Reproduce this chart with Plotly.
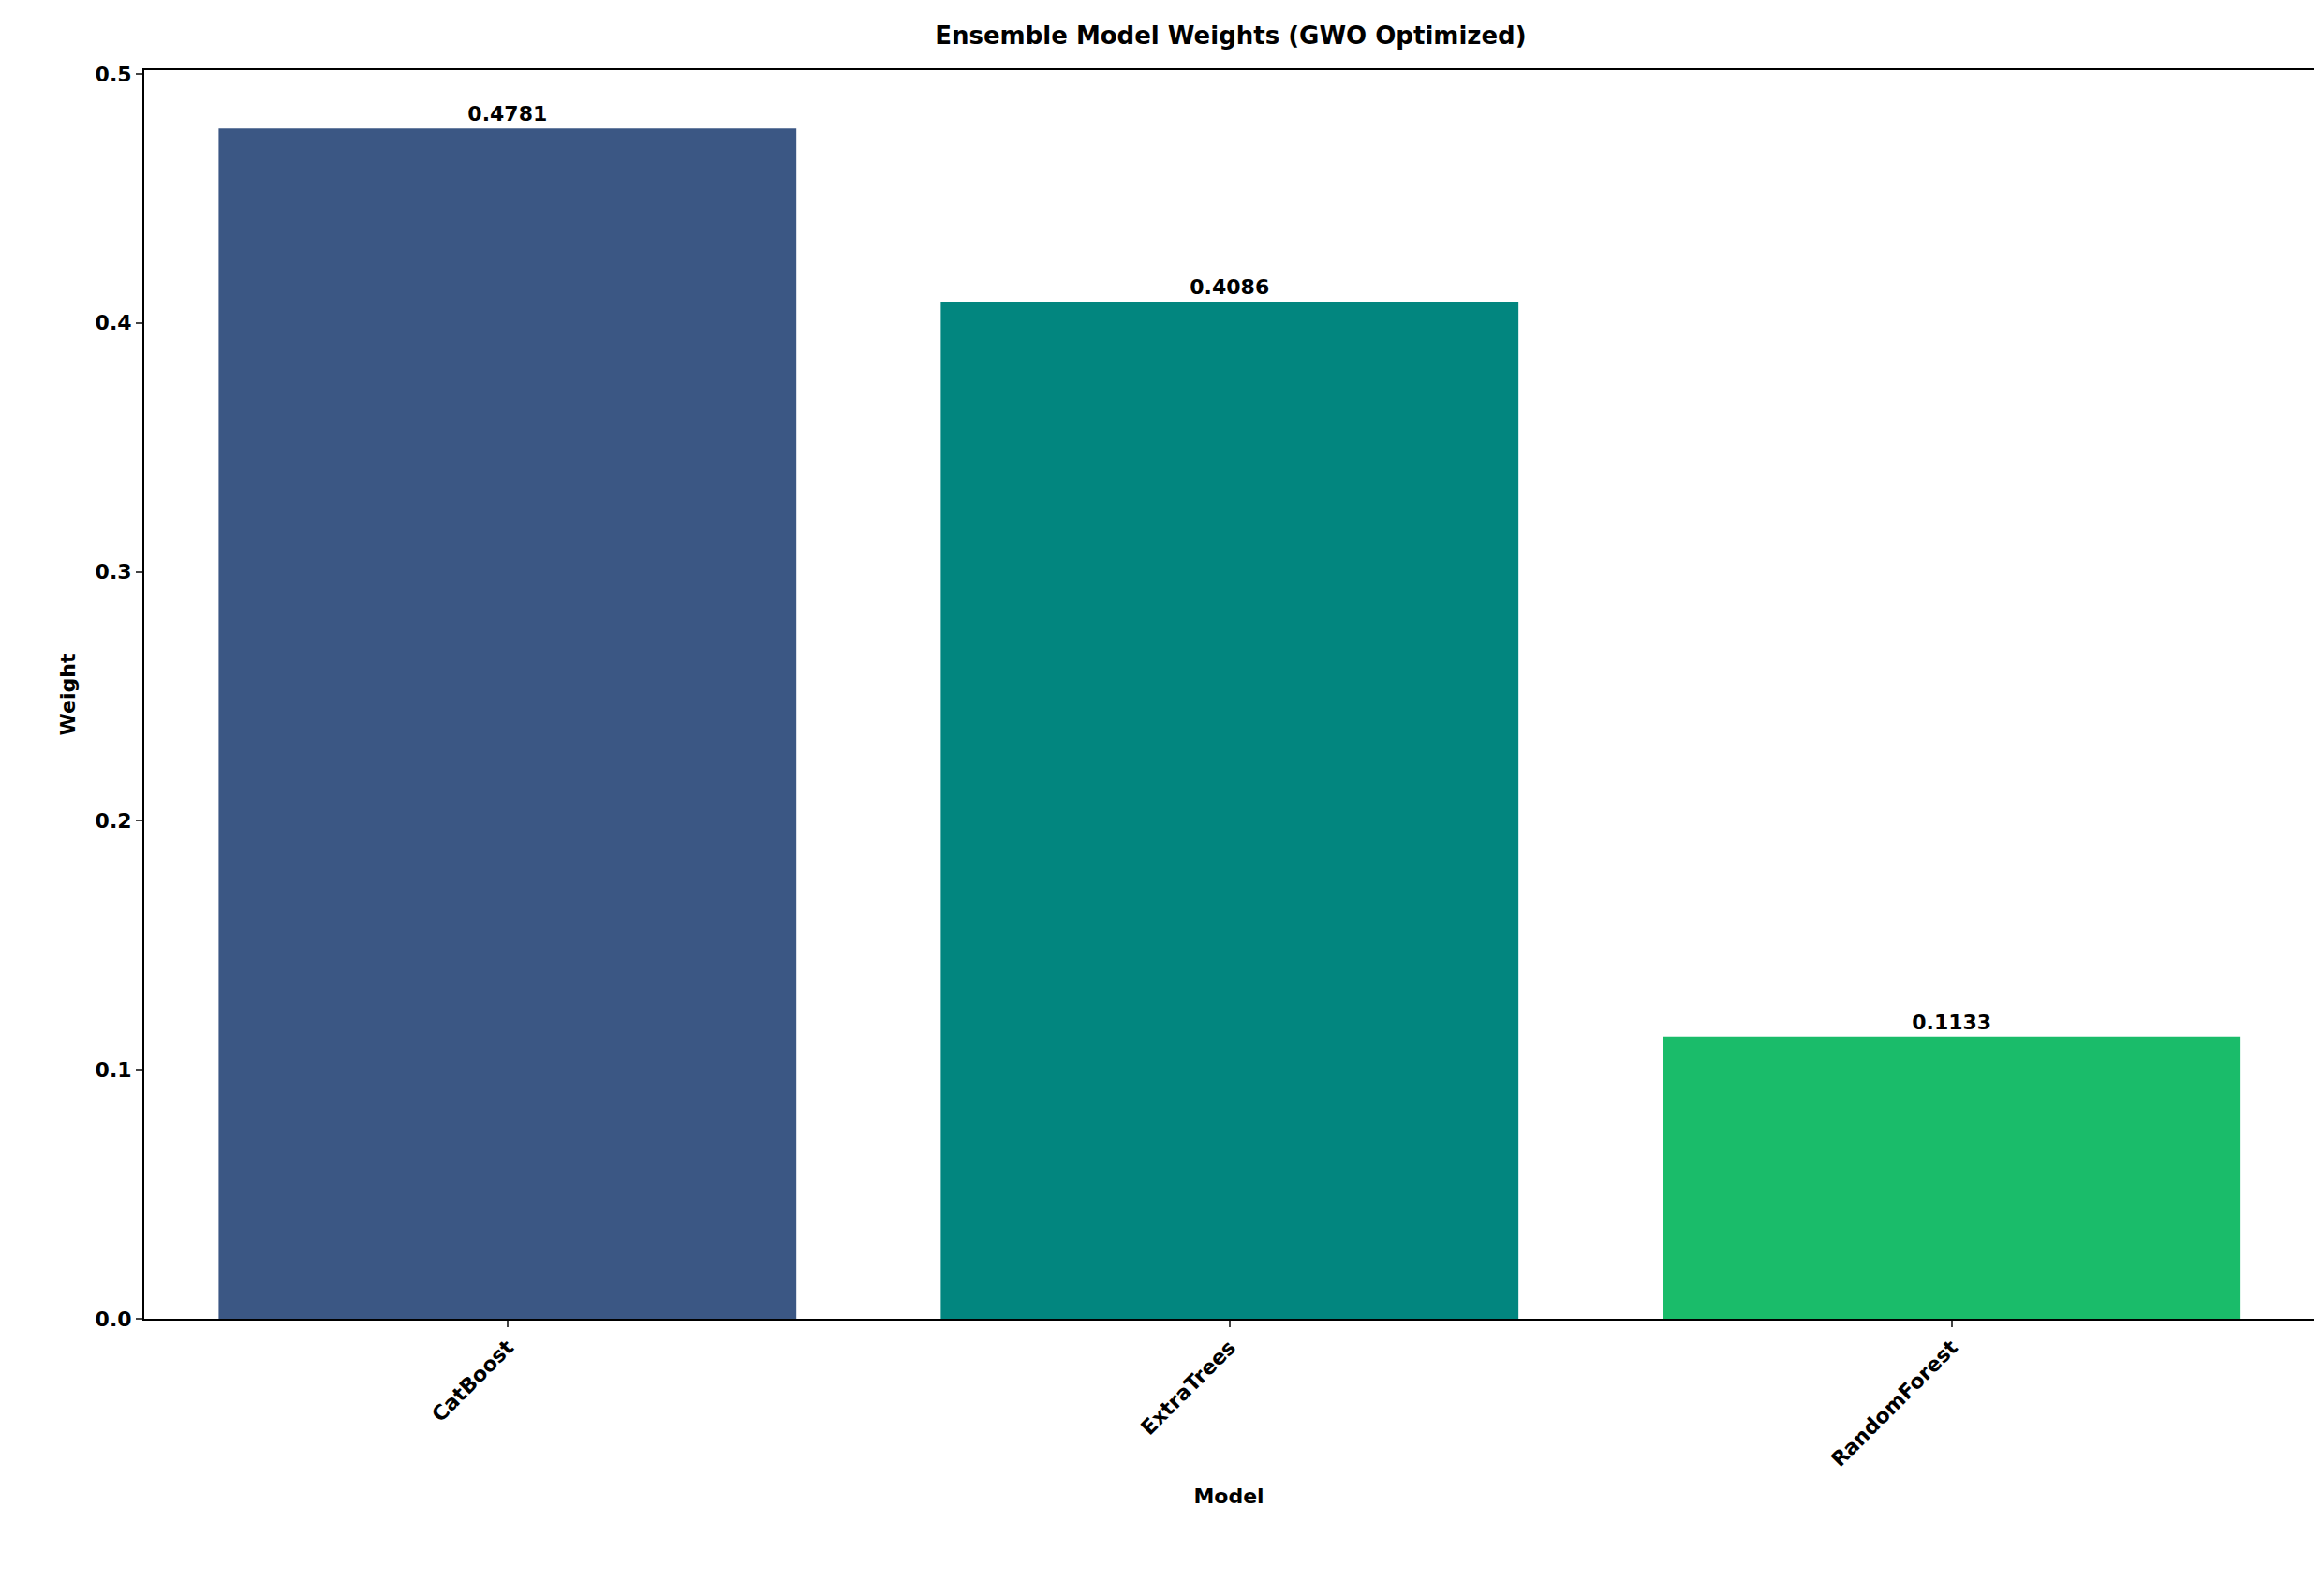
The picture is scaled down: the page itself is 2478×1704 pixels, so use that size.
import plotly.graph_objects as go

models = ["CatBoost", "ExtraTrees", "RandomForest"]
weights = [0.4781, 0.4086, 0.1133]
colors = ["#3B5784", "#02867F", "#1ABC6A"]
labels = [f"<b>{w:.4f}</b>" for w in weights]

F = "DejaVu Sans"
fig = go.Figure(go.Bar(
    x=models, y=weights, marker_color=colors, marker_line_width=0, width=0.8,
    text=labels, textposition="outside", cliponaxis=False,
    textfont=dict(family=F, size=22, color="black"),
))
fig.update_layout(
    width=2478, height=1704, paper_bgcolor="white", plot_bgcolor="white",
    margin=dict(l=146, r=16, t=67, b=304),
    title=dict(text="<b>Ensemble Model Weights (GWO Optimized)</b>", x=0.527, xanchor="center",
               y=0.988, yanchor="top", font=dict(family=F, size=26, color="black")),
    font=dict(family=F, size=22, color="black"),
    showlegend=False,
)
fig.update_xaxes(range=[-0.503, 2.501], showline=True, linecolor="black", linewidth=2, mirror=True,
                 ticks="outside", ticklen=7, tickwidth=2, tickangle=-45,
                 tickvals=models, ticktext=[f"<b>{m}</b>" for m in models],
                 title=dict(text="<b>Model</b>", standoff=20, font=dict(size=22)))
fig.update_yaxes(range=[0, 0.5015], showline=True, linecolor="black", linewidth=2, mirror=True,
                 ticks="outside", ticklen=7, tickwidth=2, showgrid=False, zeroline=False,
                 tickvals=[0, 0.1, 0.2, 0.3, 0.4, 0.5],
                 ticktext=["<b>0.0</b>", "<b>0.1</b>", "<b>0.2</b>", "<b>0.3</b>", "<b>0.4</b>", "<b>0.5</b>"],
                 title=dict(text="<b>Weight</b>", standoff=15, font=dict(size=22)))
fig.write_html("out.html")
